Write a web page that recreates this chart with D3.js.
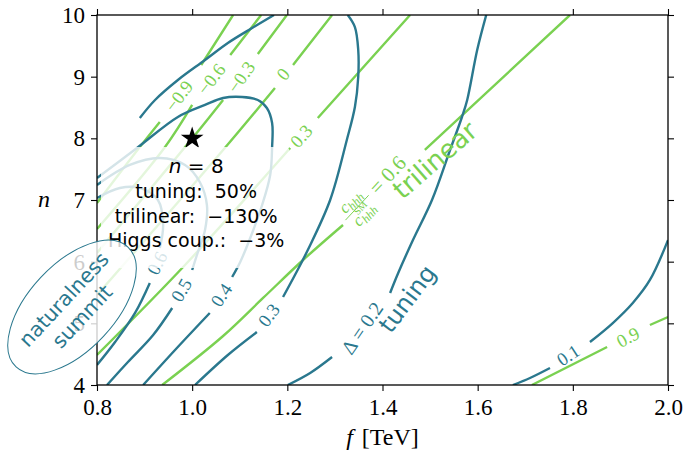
<!DOCTYPE html>
<html>
<head>
<meta charset="utf-8">
<script src="https://cdn.jsdelivr.net/npm/d3@7"></script>
<style>
  body { margin: 0; background: #fff; }
  .serif { font-family: "Liberation Serif", "DejaVu Serif", serif; }
  .sans { font-family: "DejaVu Sans", sans-serif; }
</style>
</head>
<body>
<svg id="chart" width="684" height="452"></svg>
<script>
// axis ticks
var fTicks = [0.8, 1.0, 1.2, 1.4, 1.6, 1.8, 2.0];
var nTicks = [4, 5, 6, 7, 8, 9, 10];

// tuning contours Delta, points [f, n]; null = gap under the inline label
var tuning01 = [[1.674,4.0],[1.710,4.114],[1.752,4.276],null,[1.836,4.697],[1.884,5.005],[1.926,5.330],[1.962,5.703],[2.0,6.35]];
var tuning02 = [[1.201,4.0],[1.248,4.195],[1.294,4.454],null,[1.416,5.492],[1.433,5.816],[1.464,6.351],[1.504,7.0],[1.542,7.811],[1.567,8.346],[1.578,8.622],[1.599,9.432],[1.618,10.0]];
var tuning03 = [[1.327,10.0],[1.342,9.805],[1.349,9.432],[1.349,8.995],[1.342,8.508],[1.325,7.973],[1.290,7.0],[1.243,6.189],[1.216,5.784],[1.191,5.427],null,[1.136,4.859],[1.075,4.487],[1.006,4.0]];
var tuning04 = [[0.897,4.0],[0.964,4.568],[1.037,5.168],null,[1.084,5.751],[1.101,5.995],[1.122,6.384],[1.147,6.919],[1.164,7.405],[1.168,7.859],[1.168,8.249],[1.157,8.492],[1.138,8.622],[1.105,8.670],[1.065,8.654],[1.027,8.541],[0.970,8.346],[0.884,7.843],[0.8,7.357]];
var tuning05 = [[0.821,4.0],[0.865,4.373],[0.918,4.811],[0.958,5.249],null,[1.0,5.865],[1.010,6.108],[1.027,6.514],[1.031,6.919],[1.016,7.292],[0.985,7.568],[0.932,7.681],[0.869,7.568],[0.8,7.243]];
var tuning06 = [[0.8,4.324],[0.838,4.697],[0.880,5.168],[0.911,5.654],null,[0.932,6.222],[0.939,6.595],[0.928,7.0],[0.890,7.195],[0.848,7.195],[0.8,7.032]];
var tuningUpper = [[1.172,10.0],[1.126,9.789],[1.075,9.546],[1.027,9.270],[0.970,8.946],[0.922,8.622],[0.890,8.330]];

// trilinear ratio contours c_hhh / c_hhh^SM
var tri_m09 = [[1.086,10.0],[1.019,9.189],null,[0.932,8.265],[0.890,7.859],[0.8,6.951]];
var tri_m06 = [[1.145,10.0],[1.080,9.351],null,[1.0,8.541],[0.943,7.859],[0.8,6.530]];
var tri_m03 = [[1.199,10.0],[1.138,9.368],null,[1.065,8.622],[1.006,8.054],[0.8,6.141]];
var tri_00 = [[1.294,10.0],[1.212,9.189],null,[1.174,8.816],[1.065,7.811],[0.8,5.459]];
var tri_03 = [[1.458,10.0],[1.264,8.330],null,[1.206,7.843],[0.985,5.946],[0.8,4.487]];
var tri_06 = [[1.794,10.0],[1.489,7.811],null,[1.317,6.595],[1.233,6.027],[1.149,5.411],[1.065,4.795],[0.937,4.0]];
var tri_09 = [[1.714,4.0],[1.872,4.616],null,[1.962,4.973],[2.0,5.103]];

// inline labels: text, position [f, n], rotation
var tuningLabels = [
  ["0.1", [1.790,4.487], -33],
  ["0.3", [1.161,5.135], -53],
  ["0.4", [1.061,5.459], -57],
  ["0.5", [0.977,5.541], -60],
  ["0.6", [0.926,5.978], -63]
];
var triLabels = [
  ["\u22120.9", [0.972,8.686], -53],
  ["\u22120.6", [1.040,8.962], -53],
  ["\u22120.3", [1.103,8.995], -55],
  ["0", [1.191,9.043], -50],
  ["0.3", [1.229,8.038], -48],
  ["0.9", [1.916,4.778], -28]
];

// benchmark point
var benchmark = [1.0, 8.0];
var benchmarkText = ["tuning:  50%", "trilinear:  \u2212130%", "Higgs coup.:  \u22123%"];

var blue = "#2a788e", green = "#7ad151";

var svg = d3.select("#chart");
var margin = {top: 15, right: 16, bottom: 67, left: 97};
var width = 684 - margin.left - margin.right;
var height = 452 - margin.top - margin.bottom;

var g = svg.append("g")
    .attr("transform", "translate(" + margin.left + "," + margin.top + ")");

var x = d3.scaleLinear().domain([0.8, 2.0]).range([0, width]);
var y = d3.scaleLinear().domain([4, 10]).range([height, 0]);

g.append("clipPath").attr("id", "plotclip")
  .append("rect").attr("width", width).attr("height", height);

var plot = g.append("g").attr("clip-path", "url(#plotclip)");

var line = d3.line()
    .defined(function(d) { return d; })
    .x(function(d) { return x(d[0]); })
    .y(function(d) { return y(d[1]); })
    .curve(d3.curveCatmullRom);

[tri_m09, tri_m06, tri_m03, tri_00, tri_03, tri_06, tri_09].forEach(function(c) {
  plot.append("path").datum(c)
    .attr("fill", "none").attr("stroke", green).attr("stroke-width", 2.4)
    .attr("d", line);
});

[tuning01, tuning02, tuning03, tuning04, tuning05, tuning06, tuningUpper].forEach(function(c) {
  plot.append("path").datum(c)
    .attr("fill", "none").attr("stroke", blue).attr("stroke-width", 2.4)
    .attr("d", line);
});

function inlineLabel(sel, lab, color, size) {
  sel.append("text")
    .attr("class", "serif")
    .attr("transform", "translate(" + x(lab[1][0]) + "," + y(lab[1][1]) + ") rotate(" + lab[2] + ")")
    .attr("text-anchor", "middle")
    .attr("dy", "0.35em")
    .attr("font-size", size)
    .attr("fill", color)
    .text(lab[0]);
}
tuningLabels.forEach(function(l) { inlineLabel(plot, l, blue, 18.5); });
triLabels.forEach(function(l) { inlineLabel(plot, l, green, 18.5); });

// Delta = 0.2 label
plot.append("text").attr("class", "serif")
    .attr("transform", "translate(" + x(1.357) + "," + y(4.924) + ") rotate(-56)")
    .attr("text-anchor", "middle").attr("dy", "0.35em")
    .attr("font-size", 20).attr("fill", blue)
    .text("\u0394 = 0.2");

// c_hhh / c_hhh^SM = 0.6 label
var fr = plot.append("g")
    .attr("transform", "translate(" + x(1.391) + "," + y(7.243) + ") rotate(-47)")
    .attr("fill", green);
var num = fr.append("text").attr("class", "serif").attr("x", -31).attr("y", -4)
    .attr("text-anchor", "middle").attr("font-size", 17);
num.append("tspan").attr("font-style", "italic").text("c");
num.append("tspan").attr("font-style", "italic").attr("font-size", 12).attr("dy", 3).text("hhh");
fr.append("line").attr("x1", -48).attr("x2", -14).attr("y1", 0).attr("y2", 0)
    .attr("stroke", green).attr("stroke-width", 0.9);
var den = fr.append("text").attr("class", "serif").attr("x", -31).attr("y", 15)
    .attr("text-anchor", "middle").attr("font-size", 17);
den.append("tspan").attr("font-style", "italic").text("c");
den.append("tspan").attr("font-style", "italic").attr("font-size", 12).attr("dy", 3).text("hhh");
den.append("tspan").attr("font-size", 10).attr("dx", -18).attr("dy", -12).text("SM");
fr.append("text").attr("class", "serif").attr("x", -8).attr("y", 7)
    .attr("font-size", 21).text("= 0.6");

// big labels
plot.append("text").attr("class", "sans")
    .attr("transform", "translate(" + x(1.51) + "," + y(7.65) + ") rotate(-41)")
    .attr("text-anchor", "middle").attr("dy", "0.35em")
    .attr("font-size", 26).attr("fill", green).text("trilinear");
plot.append("text").attr("class", "sans")
    .attr("transform", "translate(" + x(1.452) + "," + y(5.4) + ") rotate(-53)")
    .attr("text-anchor", "middle").attr("dy", "0.35em")
    .attr("font-size", 24).attr("fill", blue).text("tuning");

// benchmark star
g.append("path")
    .attr("transform", "translate(" + x(benchmark[0]) + "," + y(benchmark[1]) + ")")
    .attr("d", d3.symbol(d3.symbolStar, 160)())
    .attr("fill", "#000");

// text box over the benchmark
g.append("rect")
    .attr("x", 4).attr("y", 132).attr("width", 189).attr("height", 121)
    .attr("rx", 5)
    .attr("fill", "#fff").attr("fill-opacity", 0.8);

var bx = x(benchmark[0]) + 4;
var t0 = g.append("text").attr("class", "sans").attr("x", bx).attr("y", 158)
    .attr("text-anchor", "middle").attr("font-size", 20).attr("fill", "#000")
    .style("white-space", "pre");
t0.append("tspan").attr("font-style", "italic").text("n");
t0.append("tspan").text(" = " + benchmark[1]);
benchmarkText.forEach(function(s, i) {
  g.append("text").attr("class", "sans")
    .attr("x", bx).attr("y", 183 + i * 24.5)
    .attr("text-anchor", "middle").attr("font-size", 19).attr("fill", "#000")
    .style("white-space", "pre")
    .text(s);
});

// axes
function styleAxis(a) {
  a.select(".domain").remove();
  a.selectAll(".tick line").attr("stroke", "#000").attr("stroke-width", 1.1);
  a.selectAll(".tick text").attr("class", "serif").attr("font-size", 23).attr("fill", "#000");
}
g.append("g").attr("transform", "translate(0," + height + ")")
  .call(d3.axisBottom(x).tickValues(fTicks).tickFormat(d3.format(".1f")).tickSize(6).tickPadding(8))
  .call(styleAxis);
g.append("g")
  .call(d3.axisTop(x).tickValues(fTicks).tickFormat("").tickSize(6))
  .call(styleAxis);
g.append("g")
  .call(d3.axisLeft(y).tickValues(nTicks).tickFormat(d3.format("d")).tickSize(6).tickPadding(6))
  .call(styleAxis);
g.append("g").attr("transform", "translate(" + width + ",0)")
  .call(d3.axisRight(y).tickValues(nTicks).tickFormat("").tickSize(6))
  .call(styleAxis);

g.append("rect").attr("width", width).attr("height", height)
  .attr("fill", "none").attr("stroke", "#000").attr("stroke-width", 1.3);

// axis titles
var xt = svg.append("text").attr("class", "serif")
    .attr("x", margin.left + width / 2).attr("y", 445)
    .attr("text-anchor", "middle").attr("font-size", 24);
xt.append("tspan").attr("font-style", "italic").text("f");
xt.append("tspan").attr("dx", 9).text("[TeV]");
svg.append("text").attr("class", "serif")
    .attr("x", 44).attr("y", 207)
    .attr("text-anchor", "middle").attr("font-size", 24)
    .attr("font-style", "italic").text("n");

// naturalness summit ellipse
var ell = svg.append("g")
    .attr("transform", "translate(" + (margin.left + x(0.7475)) + "," + (margin.top + y(5.265)) + ") rotate(-47)");
ell.append("ellipse").attr("rx", 82).attr("ry", 43)
    .attr("fill", "#fff").attr("fill-opacity", 0.8)
    .attr("stroke", blue).attr("stroke-width", 1);
ell.append("text").attr("class", "sans").attr("x", 0).attr("y", -4)
    .attr("text-anchor", "middle").attr("font-size", 20.5).attr("fill", blue).text("naturalness");
ell.append("text").attr("class", "sans").attr("x", 0).attr("y", 21)
    .attr("text-anchor", "middle").attr("font-size", 20.5).attr("fill", blue).text("summit");
</script>
</body>
</html>
